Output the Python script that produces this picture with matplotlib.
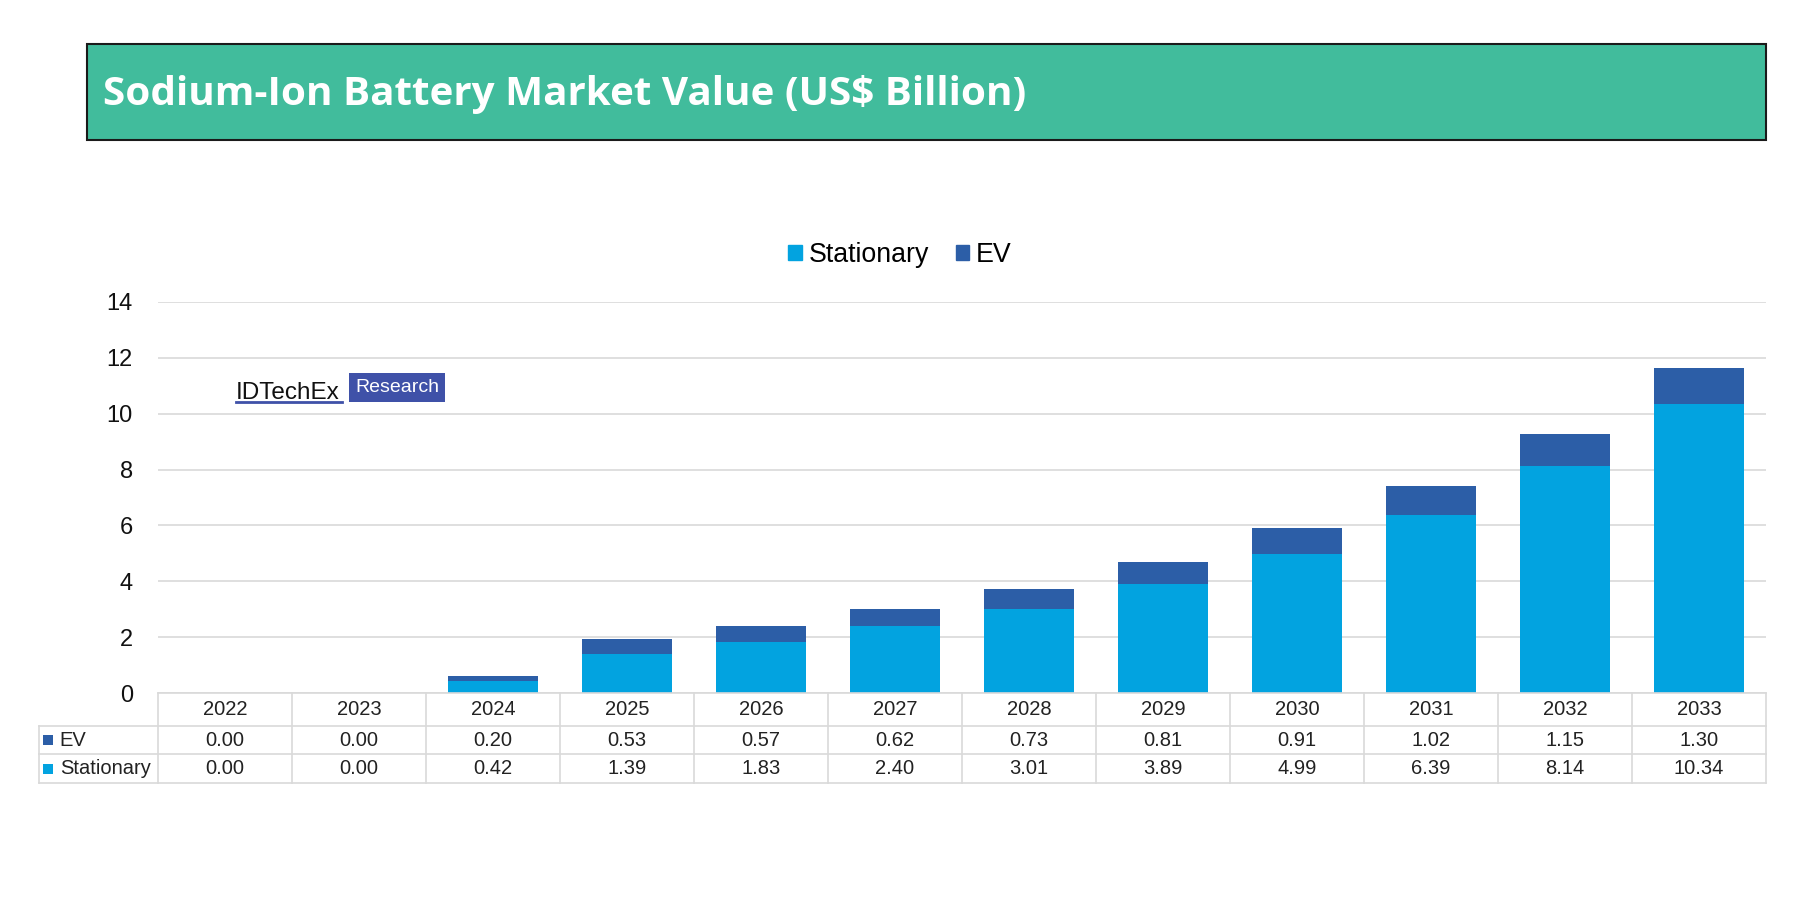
import matplotlib
matplotlib.use("Agg")
import numpy as np
from matplotlib import pyplot as plt
from matplotlib.patches import Rectangle, Patch

# data
years = ['2022', '2023', '2024', '2025', '2026', '2027', '2028', '2029', '2030', '2031', '2032', '2033']
ev = [0.00, 0.00, 0.20, 0.53, 0.57, 0.62, 0.73, 0.81, 0.91, 1.02, 1.15, 1.30]
stationary = [0.00, 0.00, 0.42, 1.39, 1.83, 2.40, 3.01, 3.89, 4.99, 6.39, 8.14, 10.34]
y_ticks = [0, 2, 4, 6, 8, 10, 12, 14]

title = 'Sodium-Ion Battery Market Value (US$ Billion)'

c_stat = '#02A3E0'
c_ev = '#2C5EA7'
c_grid = '#D9D9D9'

plt.rcParams['font.family'] = ['Liberation Sans', 'DejaVu Sans']

W, H = 1800, 900
fig = plt.figure(figsize=(18, 9), dpi=100)

# title banner
fig.patches.append(Rectangle((87 / W, 1 - 140 / H), (1766 - 87) / W, 96 / H,
                             transform=fig.transFigure, facecolor='#41BC9C',
                             edgecolor='#1a1a1a', linewidth=1.5))
fig.text(103 / W, 1 - 94 / H, title, fontsize=29.1, fontweight='bold',
         family='Open Sans', color='white', va='center', ha='left')

# main chart
x = np.arange(len(years))
ax = fig.add_axes([158 / W, 1 - 693 / H, (1766 - 158) / W, (693 - 302) / H])
ax.bar(x, stationary, width=0.67, color=c_stat, zorder=3)
ax.bar(x, ev, width=0.67, bottom=stationary, color=c_ev, zorder=3)
ax.set_xlim(-0.5, len(years) - 0.5)
ax.set_ylim(0, 14)
ax.set_yticks(y_ticks)
ax.set_xticks([])
ax.tick_params(axis='y', length=0, pad=18, labelsize=17, colors='#111111')
ax.grid(axis='y', color=c_grid, linewidth=1.2, zorder=0)
for s in ax.spines.values():
    s.set_visible(False)

fig.legend(handles=[Patch(color=c_stat, label='Stationary'), Patch(color=c_ev, label='EV')],
           loc='center', bbox_to_anchor=(0.5, 1 - 255 / H), ncol=2, frameon=False,
           fontsize=19.3, handlelength=0.5, handleheight=0.5, handletextpad=0.25,
           columnspacing=1.0)

# logo
fig.text(236 / W, 1 - 399 / H, 'IDTechEx', fontsize=17.5, color='#111111',
         ha='left', va='baseline')
fig.lines.append(plt.Line2D([236 / W, 342 / W], [1 - 402 / H, 1 - 402 / H],
                            transform=fig.transFigure, color='#3F51A8', linewidth=2))
fig.patches.append(Rectangle((349 / W, 1 - 402 / H), 96 / W, 29 / H, transform=fig.transFigure,
                             facecolor='#3F51A8', edgecolor='none'))
fig.text(397 / W, 1 - 388 / H, 'Research', fontsize=14, color='white', ha='center', va='center')

# data table under the chart
tax = fig.add_axes([158 / W, 1 - 783 / H, (1766 - 158) / W, 90 / H])
tax.set_xlim(-0.5, len(years) - 0.5)
tax.set_ylim(90, 0)
tax.axis('off')
lab_left = -0.5 - 119 / 134
rows = [0, 32.5, 61, 90]
kw = dict(color=c_grid, linewidth=1.2, clip_on=False)
tax.plot([-0.5, len(years) - 0.5], [0, 0], **kw)
for r in rows[1:]:
    tax.plot([lab_left, len(years) - 0.5], [r, r], **kw)
for i in range(len(years) + 1):
    tax.plot([i - 0.5, i - 0.5], [0, 90], **kw)
tax.plot([lab_left, lab_left], [32.5, 90], **kw)

tfs = 14.5
for i, yr in enumerate(years):
    tax.text(i, 16.5, yr, ha='center', va='center', fontsize=tfs, color='#222222')
    tax.text(i, 47, '%.2f' % ev[i], ha='center', va='center', fontsize=tfs, color='#222222')
    tax.text(i, 75.5, '%.2f' % stationary[i], ha='center', va='center', fontsize=tfs, color='#222222')

for name, col, yc in [('EV', c_ev, 47), ('Stationary', c_stat, 75.5)]:
    tax.add_patch(Rectangle((lab_left + 0.03, yc - 5), 0.077, 10, facecolor=col,
                            edgecolor='none', clip_on=False))
    tax.text(lab_left + 0.155, yc, name, ha='left', va='center', fontsize=tfs,
             color='#222222', clip_on=False)

fig.savefig('out.png', dpi=100, facecolor='white')
